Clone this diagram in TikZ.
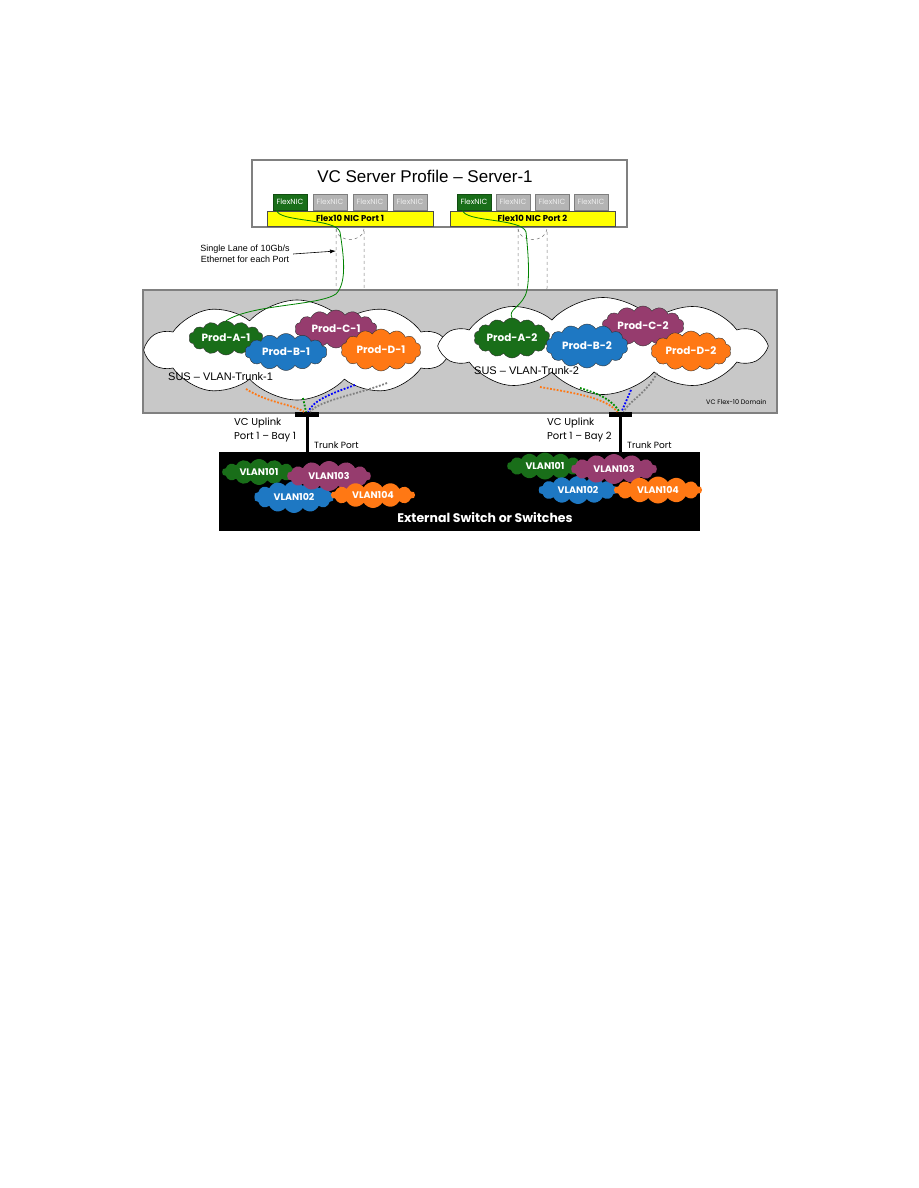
\documentclass[tikz,border=0pt]{standalone}
\usepackage{fontspec}
\setmainfont{Liberation Sans}
\newfontfamily\futura[Ligatures=TeX]{Poppins}
\usetikzlibrary{shapes.symbols, arrows.meta, positioning, calc}
\definecolor{prodGreen} {RGB}{ 25,110, 25}
\definecolor{prodBlue}  {RGB}{ 30,120,195}
\definecolor{prodPurple}{RGB}{150, 60,110}
\definecolor{prodOrange}{RGB}{255,120, 20}
\definecolor{nicGray}   {RGB}{180,180,180}
\definecolor{domGray}   {RGB}{200,200,200}
\definecolor{edgeGray}  {RGB}{128,128,128}
\definecolor{portYellow}{RGB}{255,255,  0}
\definecolor{wireGreen} {RGB}{  0,130,  0}

\begin{document}
\begin{tikzpicture}[x=1pt, y=-1pt,
  %% FlexNIC boxes
  nic/.style={rectangle, minimum width=34pt, minimum height=16pt,
    inner sep=0pt, font=\futura\fontsize{7.5}{8}\selectfont},
  nicon/.style={nic, fill=prodGreen, draw=prodGreen!70!black, text=white},
  nicoff/.style={nic, fill=nicGray, draw=nicGray!70!black, text=white!85!gray},
  %% Flex10 port bar
  port/.style={rectangle, fill=portYellow, draw=black!70, line width=0.6pt,
    minimum width=166pt, minimum height=15pt, inner sep=0pt,
    font=\futura\bfseries\fontsize{8.5}{9}\selectfont},
  %% Shared uplink set cloud
  sus/.style={cloud, cloud puffs=10, cloud puff arc=95, cloud ignores aspect,
    fill=white, draw=black, line width=0.6pt, inner sep=0pt},
  %% Network clouds
  prod/.style={cloud, cloud puffs=14, cloud puff arc=120, cloud ignores aspect,
    draw=black!80, line width=0.4pt, inner sep=0pt, text=white,
    font=\futura\bfseries\fontsize{10.5}{11}\selectfont},
  vlan/.style={cloud, cloud puffs=14, cloud puff arc=120, cloud ignores aspect,
    draw=none, inner sep=0pt, text=white,
    font=\futura\bfseries\fontsize{9.5}{10}\selectfont},
  %% Uplink bar
  upbar/.style={rectangle, fill=black, minimum height=5pt, inner sep=0pt},
  %% Lines
  lane/.style={draw=black!55, dashed, line width=0.5pt},
  wire/.style={draw=wireGreen, line width=0.8pt},
  vlink/.style={line width=1.8pt, dash pattern=on 1.8pt off 1.6pt},
  pointer/.style={-{Latex[length=6pt,width=4pt]}, line width=0.6pt},
  lbl/.style={font=\futura\fontsize{10}{13.5}\selectfont, align=left, inner sep=0pt},
]
\useasboundingbox (0,0) rectangle (918,1188);

%% ── SERVER PROFILE ──────────────────────────────────────────────────────────
\node[draw=edgeGray, line width=2.5pt, fill=white, minimum width=375pt,
      minimum height=67pt, inner sep=0pt] (prof) at (439.5,193.5) {};
\node[font=\fontsize{17}{20}\selectfont] (title) at (425,176)
  {VC Server Profile -- Server-1};

\node[port] (portL) at (350,218.5) {Flex10 NIC Port 1};
\node[port, minimum width=165pt] (portR) at (532.5,218.5) {Flex10 NIC Port 2};

\node[nicon] (nicL1) at (290,202) {FlexNIC};
\node[nicoff] (nicL2) at (330,202) {FlexNIC};
\node[nicoff] (nicL3) at (370,202) {FlexNIC};
\node[nicoff] (nicL4) at (410,202) {FlexNIC};
\node[nicon] (nicR1) at (474,202) {FlexNIC};
\node[nicoff] (nicR2) at (513,202) {FlexNIC};
\node[nicoff] (nicR3) at (552,202) {FlexNIC};
\node[nicoff] (nicR4) at (591,202) {FlexNIC};

%% ── LANES ───────────────────────────────────────────────────────────────────
\draw[lane, rounded corners=8pt] (336,229) -- (336,296) -- (364,296) -- (364,229);
\draw[lane] (336,229) .. controls (337,243) and (363,243) .. (364,229);
\draw[lane, rounded corners=8pt] (518,229) -- (518,296) -- (547,296) -- (547,229);
\draw[lane] (518,229) .. controls (519,243) and (546,243) .. (547,229);

\node[font=\fontsize{9}{11}\selectfont, align=center] (laneTxt) at (245,254)
  {Single Lane of 10Gb/s\\Ethernet for each Port};
\coordinate (laneTip) at (336,251);
\draw[pointer] (laneTxt.east) -- (laneTip);

%% ── FLEX-10 DOMAIN ──────────────────────────────────────────────────────────
\node[draw=edgeGray, line width=2pt, fill=domGray, minimum width=634pt,
      minimum height=123pt, inner sep=0pt] (dom) at (460,351.5) {};
\node[font=\futura\fontsize{6.5}{8}\selectfont, anchor=east] (domTxt) at (770,402)
  {VC Flex-10 Domain};

\node[sus, minimum width=300pt, minimum height=100pt] (susL) at (297,350) {};
\node[sus, minimum width=322pt, minimum height=97pt] (susR) at (603,346) {};

\node[prod, fill=prodGreen, minimum width=74pt, minimum height=34pt]
  (prodA1) at (226,338) {Prod-A-1};
\node[prod, fill=prodPurple, minimum width=82pt, minimum height=38pt]
  (prodC1) at (336,329) {Prod-C-1};
\node[prod, fill=prodBlue, minimum width=82pt, minimum height=37pt]
  (prodB1) at (286,352) {Prod-B-1};
\node[prod, fill=prodOrange, minimum width=80pt, minimum height=42pt]
  (prodD1) at (381,350) {Prod-D-1};

\node[prod, fill=prodGreen, minimum width=76pt, minimum height=40pt]
  (prodA2) at (512,338) {Prod-A-2};
\node[prod, fill=prodPurple, minimum width=82pt, minimum height=40pt]
  (prodC2) at (643,326) {Prod-C-2};
\node[prod, fill=prodBlue, minimum width=82pt, minimum height=44pt]
  (prodB2) at (587,346) {Prod-B-2};
\node[prod, fill=prodOrange, minimum width=80pt, minimum height=40pt]
  (prodD2) at (691,351) {Prod-D-2};

\node[font=\fontsize{11}{12}\selectfont, anchor=west, inner sep=0pt]
  (susTxtL) at (168,377) {SUS -- VLAN-Trunk-1};
\node[font=\fontsize{11}{12}\selectfont, anchor=west, inner sep=0pt]
  (susTxtR) at (474,371) {SUS -- VLAN-Trunk-2};

%% ── NIC WIRES ───────────────────────────────────────────────────────────────
\draw[wire] (nicL1.south west) ++(4,0)
  .. controls +(1,12) and (336,218) .. (340,232)
  .. controls (343,252) and (348,282) .. (336,294)
  .. controls (318,306) and (252,304) .. (prodA1.north);
\draw[wire] (nicR1.south west) ++(6,0)
  .. controls +(1,12) and (522,218) .. (526,232)
  .. controls (529,260) and (530,286) .. (525,296)
  .. controls (519,308) and (508,310) .. (prodA2.north);

%% ── UPLINKS ─────────────────────────────────────────────────────────────────
\node[upbar, minimum width=24pt] (upL) at (307,414.5) {};
\node[upbar, minimum width=23pt] (upR) at (620.5,414.5) {};

\coordinate (oL) at (246,389); \coordinate (gL) at (303,398);
\coordinate (bL) at (355,385); \coordinate (yL) at (387,383);
\draw[vlink, prodOrange] (oL) .. controls (268,403) and (292,404) .. ($(upL.north)+(-3,0)$);
\draw[vlink, green!55!black] (gL) -- ($(upL.north)+(-1,0)$);
\draw[vlink, blue] (bL) .. controls (330,394) and (314,400) .. ($(upL.north)+(1,0)$);
\draw[vlink, gray] (yL) .. controls (356,395) and (320,400) .. ($(upL.north)+(3,0)$);

\coordinate (oR) at (540,387); \coordinate (gR) at (580,388);
\coordinate (bR) at (631,390); \coordinate (yR) at (657,373);
\draw[vlink, prodOrange] (oR) .. controls (580,394) and (605,398) .. ($(upR.north)+(-3,0)$);
\draw[vlink, green!55!black] (gR) .. controls (600,394) and (612,400) .. ($(upR.north)+(-1,0)$);
\draw[vlink, blue] (bR) -- ($(upR.north)+(1,0)$);
\draw[vlink, gray] (yR) .. controls (646,394) and (630,400) .. ($(upR.north)+(3,0)$);

%% ── EXTERNAL SWITCH ─────────────────────────────────────────────────────────
\node[fill=black, minimum width=481pt, minimum height=79pt, inner sep=0pt]
  (sw) at (459.5,491.5) {};
\draw[line width=3pt] (upL.south) -- (upL.south |- sw.north);
\draw[line width=3pt] (upR.south) -- (upR.south |- sw.north);

\node[lbl, anchor=north west] (upTxtL) at (234,418) {VC Uplink\\Port 1 -- Bay 1};
\node[lbl, anchor=west, font=\futura\fontsize{9}{10}\selectfont] (trkL) at (314,445) {Trunk Port};
\node[lbl, anchor=north west] (upTxtR) at (547,418) {VC Uplink\\Port 1 -- Bay 2};
\node[lbl, anchor=west, font=\futura\fontsize{9}{10}\selectfont] (trkR) at (627,445) {Trunk Port};

\node[vlan, fill=prodGreen, minimum width=74pt, minimum height=26pt]
  (v101L) at (259,472) {VLAN101};
\node[vlan, fill=prodBlue, minimum width=80pt, minimum height=32pt]
  (v102L) at (294,497) {VLAN102};
\node[vlan, fill=prodPurple, minimum width=84pt, minimum height=30pt]
  (v103L) at (329,476) {VLAN103};
\node[vlan, fill=prodOrange, minimum width=84pt, minimum height=26pt]
  (v104L) at (373,495) {VLAN104};

\node[vlan, fill=prodGreen, minimum width=76pt, minimum height=27pt]
  (v101R) at (545,466) {VLAN101};
\node[vlan, fill=prodBlue, minimum width=79pt, minimum height=28pt]
  (v102R) at (578,490) {VLAN102};
\node[vlan, fill=prodPurple, minimum width=86pt, minimum height=30pt]
  (v103R) at (614,469) {VLAN103};
\node[vlan, fill=prodOrange, minimum width=88pt, minimum height=27pt]
  (v104R) at (658,490) {VLAN104};

\node[text=white, font=\futura\bfseries\fontsize{12.5}{13}\selectfont]
  (swTxt) at (485,518) {External Switch or Switches};

\end{tikzpicture}
\end{document}
